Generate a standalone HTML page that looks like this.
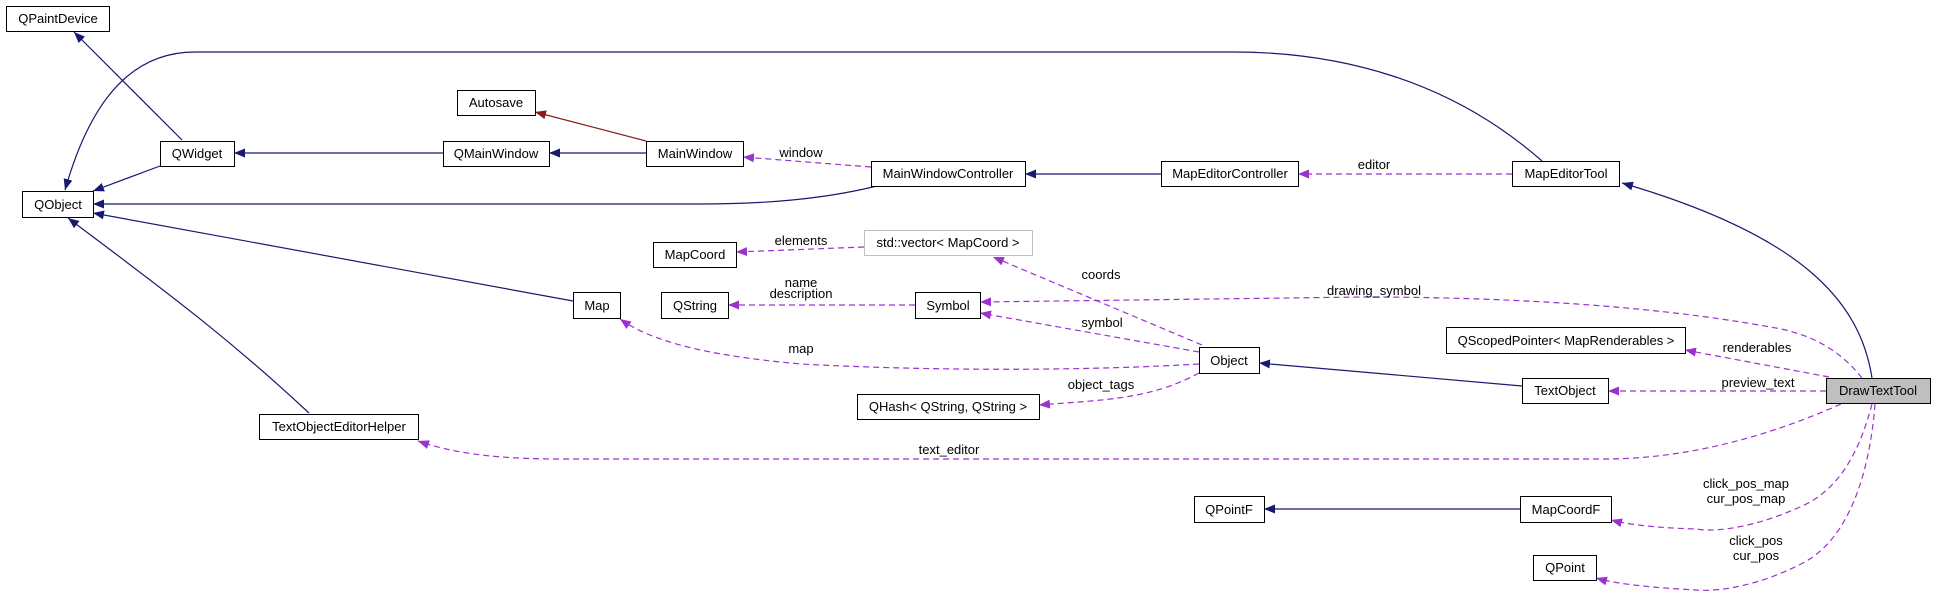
<!DOCTYPE html>
<html><head><meta charset="utf-8"><style>
html,body{margin:0;padding:0;background:#fff;}
svg{display:block;}
text{font-family:"Liberation Sans",sans-serif;font-size:13px;fill:#000;}
</style></head><body>
<svg width="1936" height="597" viewBox="0 0 1936 597" xmlns="http://www.w3.org/2000/svg">
<defs>
<marker id="an" markerUnits="userSpaceOnUse" markerWidth="12" markerHeight="10" refX="11" refY="4.5" orient="auto"><path d="M0,0 L11,4.5 L0,9 z" fill="#191970"/></marker>
<marker id="ap" markerUnits="userSpaceOnUse" markerWidth="12" markerHeight="10" refX="11" refY="4.5" orient="auto"><path d="M0,0 L11,4.5 L0,9 z" fill="#9a32cd"/></marker>
<marker id="ar" markerUnits="userSpaceOnUse" markerWidth="12" markerHeight="10" refX="11" refY="4.5" orient="auto"><path d="M0,0 L11,4.5 L0,9 z" fill="#8b1a1a"/></marker>
</defs>
<g fill="none" stroke="#191970" stroke-width="1.2" marker-end="url(#an)">
<path d="M160,166 L93,191"/>
<path d="M182,140 L74,32"/>
<path d="M443,153 L234,153"/>
<path d="M646,153 L549,153"/>
<path d="M877,186 C820,200 760,204 700,204 L93,204"/>
<path d="M1161,174 L1025,174"/>
<path d="M1542,161 C1450,80 1340,52 1233,52 L195,52 C120,52 85,120 65,190"/>
<path d="M1872,378 C1860,300 1800,235 1622,183"/>
<path d="M309,413 C220,330 150,280 68,218"/>
<path d="M573,301 L93,213"/>
<path d="M1522,386 L1259,363"/>
<path d="M1520,509 L1264,509"/>
</g>
<path d="M646,141 L535,112" fill="none" stroke="#8b1a1a" stroke-width="1.2" marker-end="url(#ar)"/>
<g fill="none" stroke="#9a32cd" stroke-width="1.2" stroke-dasharray="6,4" marker-end="url(#ap)">
<path d="M871,167 L743,157"/>
<path d="M1512,174 L1298,174"/>
<path d="M864,247 L736,252"/>
<path d="M915,305 L728,305"/>
<path d="M1199,352 L980,313"/>
<path d="M1202,345 L993,257"/>
<path d="M1199,364 C1100,370 950,372 801,364 C700,355 650,340 620,319"/>
<path d="M1199,373 C1150,400 1100,400 1039,405"/>
<path d="M1862,378 C1840,350 1810,333 1770,327 C1650,305 1500,297 1363,297 L980,302"/>
<path d="M1829,377 L1685,350"/>
<path d="M1826,391 L1608,391"/>
<path d="M1841,404 C1760,440 1680,459 1604,459 L560,459 C490,459 450,452 418,441"/>
<path d="M1872,404 C1860,450 1840,490 1800,507 C1760,525 1720,533 1696,529 C1660,528 1630,525 1611,520"/>
<path d="M1875,404 C1870,470 1850,540 1801,564 C1760,585 1720,592 1696,590 C1660,588 1620,585 1596,578"/>
</g>
<g fill="#fff" stroke="#000" stroke-width="1">
<rect x="6.5" y="6.5" width="103" height="25"/>
<rect x="22.5" y="191.5" width="71" height="26"/>
<rect x="160.5" y="141.5" width="74" height="25"/>
<rect x="443.5" y="141.5" width="106" height="25"/>
<rect x="646.5" y="141.5" width="97" height="25"/>
<rect x="457.5" y="90.5" width="78" height="25"/>
<rect x="871.5" y="161.5" width="154" height="25"/>
<rect x="1161.5" y="161.5" width="137" height="25"/>
<rect x="1512.5" y="161.5" width="107" height="25"/>
<rect x="653.5" y="242.5" width="83" height="25"/>
<rect x="864.5" y="230.5" width="168" height="25" stroke="#bfbfbf"/>
<rect x="573.5" y="292.5" width="47" height="26"/>
<rect x="661.5" y="292.5" width="67" height="26"/>
<rect x="915.5" y="292.5" width="65" height="26"/>
<rect x="259.5" y="414.5" width="159" height="25"/>
<rect x="857.5" y="394.5" width="182" height="25"/>
<rect x="1199.5" y="347.5" width="60" height="26"/>
<rect x="1446.5" y="327.5" width="239" height="26"/>
<rect x="1522.5" y="378.5" width="86" height="25"/>
<rect x="1826.5" y="378.5" width="104" height="25" fill="#bfbfbf"/>
<rect x="1194.5" y="496.5" width="70" height="26"/>
<rect x="1520.5" y="496.5" width="91" height="26"/>
<rect x="1533.5" y="555.5" width="63" height="25"/>
</g>
<g text-anchor="middle">
<text x="58" y="23">QPaintDevice</text>
<text x="58" y="209">QObject</text>
<text x="197" y="158">QWidget</text>
<text x="496" y="158">QMainWindow</text>
<text x="695" y="158">MainWindow</text>
<text x="496" y="107">Autosave</text>
<text x="948" y="178">MainWindowController</text>
<text x="1230" y="178">MapEditorController</text>
<text x="1566" y="178">MapEditorTool</text>
<text x="695" y="259">MapCoord</text>
<text x="948" y="247">std::vector&lt; MapCoord &gt;</text>
<text x="597" y="310">Map</text>
<text x="695" y="310">QString</text>
<text x="948" y="310">Symbol</text>
<text x="339" y="431">TextObjectEditorHelper</text>
<text x="948" y="411">QHash&lt; QString, QString &gt;</text>
<text x="1229" y="365">Object</text>
<text x="1566" y="345">QScopedPointer&lt; MapRenderables &gt;</text>
<text x="1565" y="395">TextObject</text>
<text x="1878" y="395">DrawTextTool</text>
<text x="1229" y="514">QPointF</text>
<text x="1566" y="514">MapCoordF</text>
<text x="1565" y="572">QPoint</text>
<text x="801" y="157">window</text>
<text x="1374" y="169">editor</text>
<text x="801" y="245">elements</text>
<text x="801" y="287">name</text>
<text x="801" y="298">description</text>
<text x="1101" y="279">coords</text>
<text x="1374" y="295">drawing_symbol</text>
<text x="1102" y="327">symbol</text>
<text x="801" y="353">map</text>
<text x="1101" y="389">object_tags</text>
<text x="1757" y="352">renderables</text>
<text x="1758" y="387">preview_text</text>
<text x="949" y="454">text_editor</text>
<text x="1746" y="488">click_pos_map</text>
<text x="1746" y="503">cur_pos_map</text>
<text x="1756" y="545">click_pos</text>
<text x="1756" y="560">cur_pos</text>
</g>
</svg>
</body></html>
